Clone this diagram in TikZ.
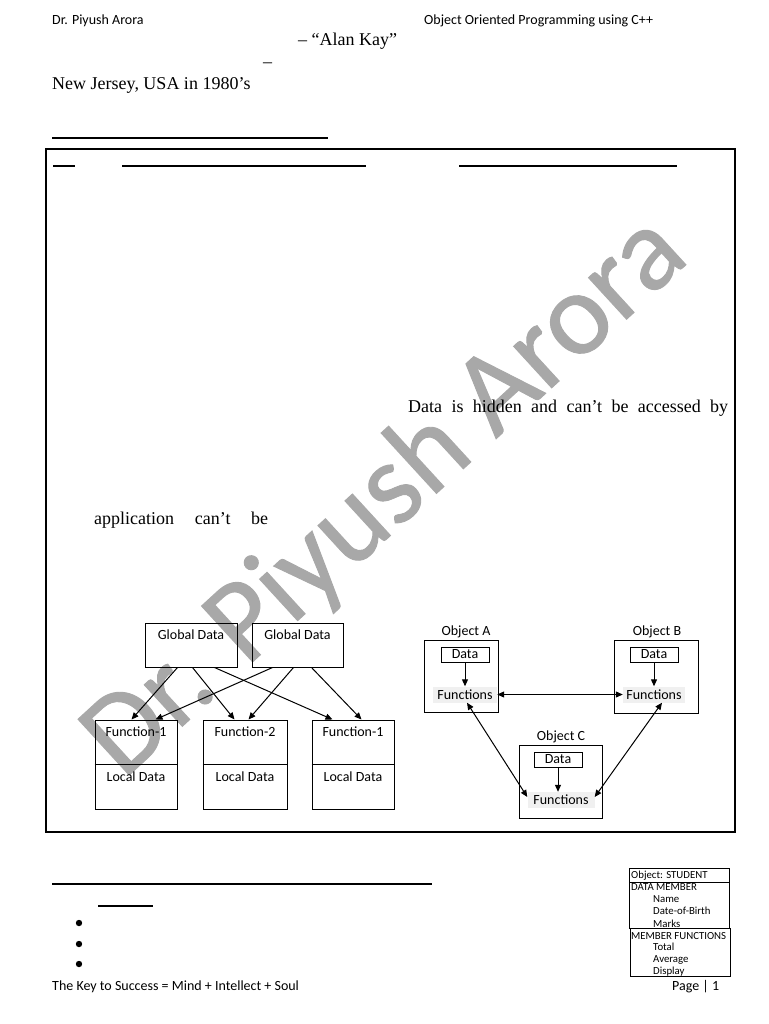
\documentclass[tikz,border=0pt]{standalone}
\usepackage{fontspec}
\setmainfont{Liberation Serif}
\newfontfamily\calfont{Carlito}
\newfontfamily\wmfont{Carlito}[FakeBold=0.8]
\usetikzlibrary{arrows.meta,calc}
\definecolor{wmgray}{RGB}{168,168,168}
\definecolor{fnbg}{RGB}{240,240,240}
\begin{document}
\begin{tikzpicture}[x=1pt,y=-1pt,
  sans/.style={font=\calfont\fontsize{14}{16}\selectfont, inner sep=0pt},
  small/.style={font=\calfont\fontsize{10.8}{12}\selectfont, inner sep=0pt, anchor=base west},
  serif/.style={font=\fontsize{18}{20}\selectfont, inner sep=0pt, anchor=base west},
  boxn/.style={draw, line width=1pt, inner sep=0pt},
  fnbox/.style={sans, fill=fnbg, minimum height=16pt},
  arr/.style={line width=1pt, -{Triangle[length=7pt,width=6pt]}},
  darr/.style={line width=1pt, {Triangle[length=7pt,width=6pt]}-{Triangle[length=7pt,width=6pt]}},
  rule/.style={line width=1.3pt}
]
\useasboundingbox (0,0) rectangle (768,1024);
\fill[white] (0,0) rectangle (768,1024);

% watermark
\node[font=\wmfont\fontsize{118}{120}\selectfont, text=wmgray, rotate=42.5, inner sep=0pt] (wm) at (386,497) {Dr. Piyush Arora};

% header
\node[sans, anchor=base west] (h1) at (52,25) {Dr. Piyush Arora};
\node[sans, anchor=base west] (h2) at (424,25) {Object Oriented Programming using C++};
\node[serif] (q1) at (298,46) {– “Alan Kay”};
\node[serif] (q2) at (263,68) {–};
\node[serif] (q3) at (52,90) {New Jersey, USA in 1980’s};
\draw[rule] (52,138) -- (328,138);

% frame
\draw[line width=1.2pt] (46,149) rectangle (735,832);
\draw[rule] (53,166) -- (75,166);
\draw[rule] (122,166) -- (366,166);
\draw[rule] (459,166) -- (677,166);

\node[serif] (t1) at (408,412) {\makebox[320pt][s]{Data is hidden and can’t be accessed by}};
\node[serif] (t2) at (94,524) {\makebox[174pt][s]{application can’t be}};

% left diagram
\node[boxn, minimum width=92pt, minimum height=44pt] (gd1) at (191,645) {};
\node[boxn, minimum width=91pt, minimum height=44pt] (gd2) at (297.5,645) {};
\node[sans, anchor=north] (gd1l) at ([yshift=-7pt]gd1.north) {Global Data};
\node[sans, anchor=north] (gd2l) at ([yshift=-7pt]gd2.north) {Global Data};

\node[boxn, minimum width=82pt, minimum height=89pt] (fn1) at (136,764.5) {};
\node[boxn, minimum width=84pt, minimum height=89pt] (fn2) at (245,764.5) {};
\node[boxn, minimum width=82pt, minimum height=89pt] (fn3) at (353,764.5) {};
\foreach \f/\t in {fn1/Function-1,fn2/Function-2,fn3/Function-1}{
  \draw[line width=1pt] (\f.west) -- (\f.east);
  \node[sans, anchor=north] (\f t) at ([yshift=-7pt]\f.north) {\t};
  \node[sans, anchor=north] (\f l) at ([yshift=-7pt]\f.center) {Local Data};
}
\draw[arr] ([xshift=33pt]gd1.south west) -- ([xshift=37pt]fn1.north west);
\draw[arr] ([xshift=48pt]gd1.south west) -- ([xshift=32pt]fn2.north west);
\draw[arr] ([xshift=70pt]gd1.south west) -- ([xshift=21pt]fn3.north west);
\draw[arr] ([xshift=21pt]gd2.south west) -- ([xshift=61pt]fn1.north west);
\draw[arr] ([xshift=42pt]gd2.south west) -- ([xshift=46pt]fn2.north west);
\draw[arr] ([xshift=60pt]gd2.south west) -- ([xshift=50pt]fn3.north west);

% right diagram
\node[boxn, minimum width=74pt, minimum height=72pt] (oa) at (461,676) {};
\node[boxn, minimum width=84pt, minimum height=73pt] (ob) at (656,676.5) {};
\node[boxn, minimum width=83pt, minimum height=73pt] (oc) at (560.5,781.5) {};
\node[sans, anchor=base] (oal) at (466,635) {Object A};
\node[sans, anchor=base] (obl) at (657,635) {Object B};
\node[sans, anchor=base] (ocl) at (561,740) {Object C};
\node[boxn, sans, minimum width=48pt, minimum height=15pt] (da) at (465,654.5) {Data};
\node[boxn, sans, minimum width=48pt, minimum height=15pt] (db) at (654,654.5) {Data};
\node[boxn, sans, minimum width=48pt, minimum height=15pt] (dc) at (558,759.5) {Data};
\node[fnbox, minimum width=64pt] (fa) at (465,694.5) {Functions};
\node[fnbox, minimum width=62pt] (fb) at (654,694.5) {Functions};
\node[fnbox, minimum width=67pt] (fc) at (561,800) {Functions};
\draw[arr] (da.south) -- (fa.north);
\draw[arr] (db.south) -- (fb.north);
\draw[arr] (dc.south) -- (dc.south |- fc.north);
\draw[darr] (fa.east) -- (fb.west);
\draw[darr] ([xshift=2pt]fa.south) -- ([yshift=3pt]fc.west);
\draw[darr] ([xshift=8pt]fb.south) -- ([yshift=3pt]fc.east);

% bottom
\draw[rule] (52,884) -- (432,884);
\draw[rule] (98,906) -- (153,906);
\foreach \yy in {923,944,964}{
  \fill (79,\yy) circle (3.2pt);
}
\node[sans, anchor=base west] (ft1) at (52,990) {The Key to Success = Mind + Intellect + Soul};
\node[sans, anchor=base west] (ft2) at (672,990) {Page | 1};

% student box
\node[boxn, minimum width=100pt, minimum height=14pt] (s1) at (679,875) {};
\node[boxn, minimum width=100pt, minimum height=46pt] (s2) at (679,905) {};
\node[boxn, minimum width=100pt, minimum height=48pt] (s3) at (680,952) {};
\node[small] (s1a) at (631,878) {Object: STUDENT};
\node[small] (s2a) at (631,890) {DATA MEMBER};
\node[small] (s2b) at (653,902) {Name};
\node[small] (s2c) at (653,914) {Date-of-Birth};
\node[small] (s2d) at (653,927) {Marks};
\node[small] (s3a) at (631,939) {MEMBER FUNCTIONS};
\node[small] (s3b) at (653,950) {Total};
\node[small] (s3c) at (653,962) {Average};
\node[small] (s3d) at (653,974) {Display};
\end{tikzpicture}
\end{document}
